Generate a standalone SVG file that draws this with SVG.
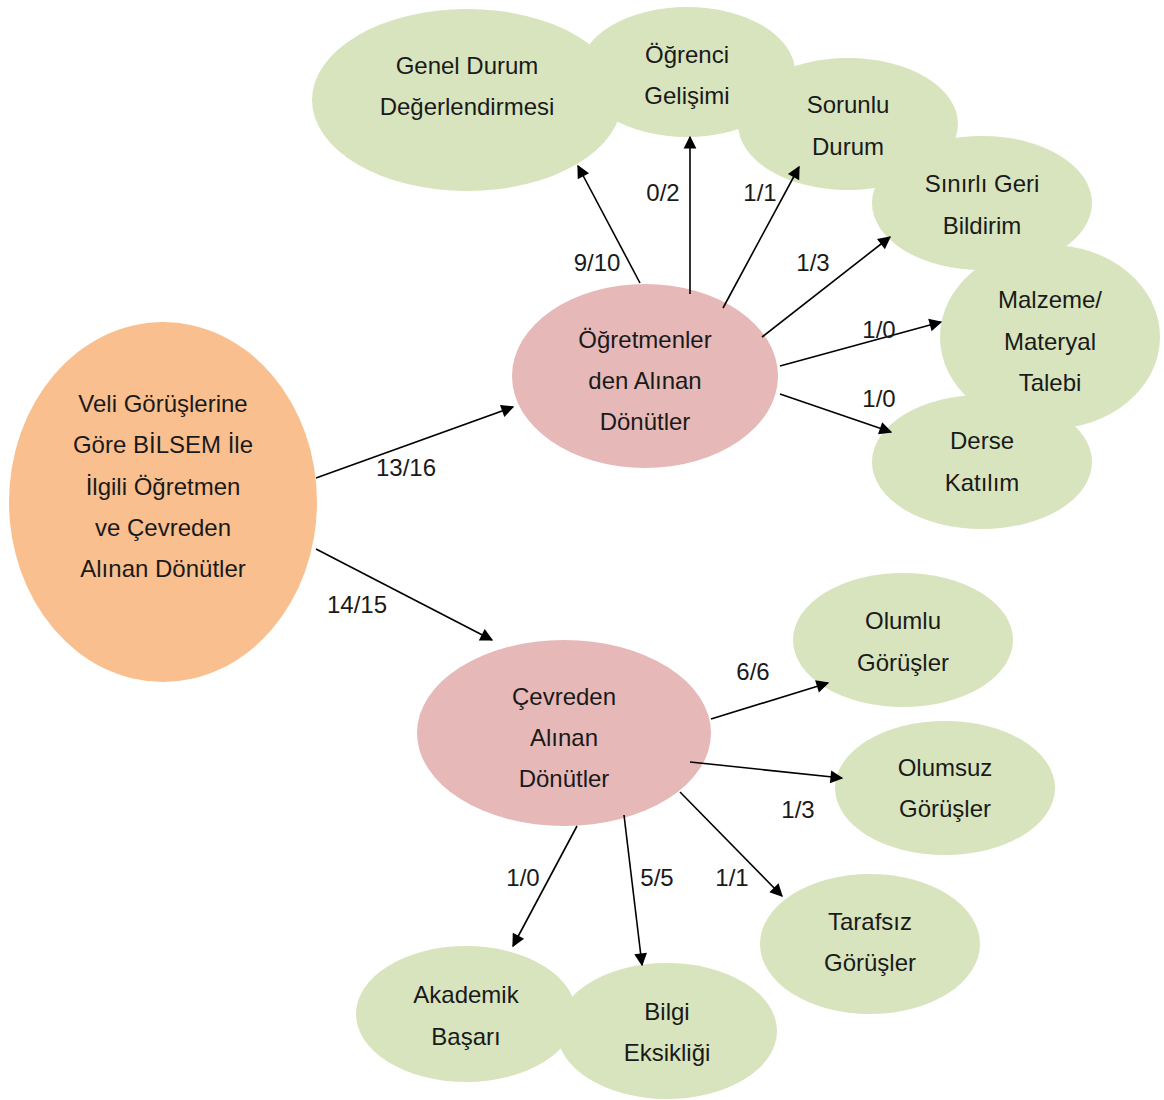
<svg xmlns="http://www.w3.org/2000/svg" width="1164" height="1100" viewBox="0 0 1164 1100">
  <style>
    .root { fill: #FABF8F; }
    .mid { fill: #E6B8B7; }
    .leaf { fill: #D7E4BD; }
    text { font-family: "Liberation Sans", Arial, sans-serif; font-size: 24px; fill: #1a1a1a; text-anchor: middle; }
    .edge { stroke: #000; stroke-width: 1.6; fill: none; marker-end: url(#arrow); }
  </style>
  <defs>
    <marker id="arrow" viewBox="0 0 10 10" refX="9" refY="5" markerWidth="9" markerHeight="8" markerUnits="userSpaceOnUse" orient="auto" overflow="visible">
      <path d="M0,0 L10,5 L0,10 Z" fill="#000" transform="scale(1.6)" transform-origin="9 5"/>
    </marker>
  </defs>
  <rect width="1164" height="1100" fill="#fff"/>

  <!-- root -->
  <g id="n-root">
    <ellipse class="root" cx="163" cy="502" rx="154" ry="180"/>
    <text x="163" y="412">Veli Görüşlerine</text>
    <text x="163" y="453">Göre BİLSEM İle</text>
    <text x="163" y="495">İlgili Öğretmen</text>
    <text x="163" y="536">ve Çevreden</text>
    <text x="163" y="577">Alınan Dönütler</text>
  </g>

  <!-- teacher branch leaves -->
  <g id="n-genel">
    <ellipse class="leaf" cx="467" cy="100" rx="155" ry="91"/>
    <text x="467" y="74">Genel Durum</text>
    <text x="467" y="115">Değerlendirmesi</text>
  </g>
  <g id="n-ogrenci">
    <ellipse class="leaf" cx="687" cy="72" rx="108" ry="65"/>
    <text x="687" y="63">Öğrenci</text>
    <text x="687" y="104">Gelişimi</text>
  </g>
  <g id="n-sorunlu">
    <ellipse class="leaf" cx="848" cy="124" rx="110" ry="66"/>
    <text x="848" y="113">Sorunlu</text>
    <text x="848" y="155">Durum</text>
  </g>
  <g id="n-sinirli">
    <ellipse class="leaf" cx="982" cy="203" rx="110" ry="67"/>
    <text x="982" y="192">Sınırlı Geri</text>
    <text x="982" y="234">Bildirim</text>
  </g>
  <g id="n-malzeme">
    <ellipse class="leaf" cx="1050" cy="337" rx="110" ry="92"/>
    <text x="1050" y="308">Malzeme/</text>
    <text x="1050" y="350">Materyal</text>
    <text x="1050" y="391">Talebi</text>
  </g>
  <g id="n-derse">
    <ellipse class="leaf" cx="982" cy="462" rx="110" ry="67"/>
    <text x="982" y="449">Derse</text>
    <text x="982" y="491">Katılım</text>
  </g>

  <!-- environment branch leaves -->
  <g id="n-olumlu">
    <ellipse class="leaf" cx="903" cy="640" rx="110" ry="67"/>
    <text x="903" y="629">Olumlu</text>
    <text x="903" y="671">Görüşler</text>
  </g>
  <g id="n-olumsuz">
    <ellipse class="leaf" cx="945" cy="788" rx="110" ry="67"/>
    <text x="945" y="776">Olumsuz</text>
    <text x="945" y="817">Görüşler</text>
  </g>
  <g id="n-tarafsiz">
    <ellipse class="leaf" cx="870" cy="944" rx="110" ry="70"/>
    <text x="870" y="930">Tarafsız</text>
    <text x="870" y="971">Görüşler</text>
  </g>
  <g id="n-akademik">
    <ellipse class="leaf" cx="466" cy="1014" rx="110" ry="68"/>
    <text x="466" y="1003">Akademik</text>
    <text x="466" y="1045">Başarı</text>
  </g>
  <g id="n-bilgi">
    <ellipse class="leaf" cx="667" cy="1031" rx="110" ry="68"/>
    <text x="667" y="1020">Bilgi</text>
    <text x="667" y="1061">Eksikliği</text>
  </g>

  <!-- intermediate nodes -->
  <g id="n-ogretmen">
    <ellipse class="mid" cx="645" cy="376" rx="133" ry="92"/>
    <text x="645" y="348">Öğretmenler</text>
    <text x="645" y="389">den Alınan</text>
    <text x="645" y="430">Dönütler</text>
  </g>
  <g id="n-cevre">
    <ellipse class="mid" cx="564" cy="733" rx="147" ry="93"/>
    <text x="564" y="705">Çevreden</text>
    <text x="564" y="746">Alınan</text>
    <text x="564" y="787">Dönütler</text>
  </g>

  <!-- connectors -->
  <g id="connectors">
    <line class="edge" x1="316" y1="478" x2="513" y2="407"/>
    <line class="edge" x1="316" y1="549" x2="492" y2="640"/>
    <line class="edge" x1="640" y1="283" x2="578" y2="166"/>
    <line class="edge" x1="690" y1="294" x2="690" y2="137"/>
    <line class="edge" x1="723" y1="308" x2="799" y2="167"/>
    <line class="edge" x1="762" y1="337" x2="890" y2="237"/>
    <line class="edge" x1="780" y1="366" x2="941" y2="322"/>
    <line class="edge" x1="780" y1="394" x2="891" y2="432"/>
    <line class="edge" x1="711" y1="719" x2="828" y2="683"/>
    <line class="edge" x1="690" y1="762" x2="842" y2="778"/>
    <line class="edge" x1="680" y1="792" x2="782" y2="896"/>
    <line class="edge" x1="624" y1="815" x2="642" y2="965"/>
    <line class="edge" x1="577" y1="826" x2="513" y2="946"/>

    <text x="406" y="476">13/16</text>
    <text x="357" y="613">14/15</text>
    <text x="597" y="271">9/10</text>
    <text x="663" y="201">0/2</text>
    <text x="760" y="201">1/1</text>
    <text x="813" y="271">1/3</text>
    <text x="879" y="338">1/0</text>
    <text x="879" y="407">1/0</text>
    <text x="753" y="680">6/6</text>
    <text x="798" y="818">1/3</text>
    <text x="732" y="886">1/1</text>
    <text x="657" y="886">5/5</text>
    <text x="523" y="886">1/0</text>
  </g>
</svg>
